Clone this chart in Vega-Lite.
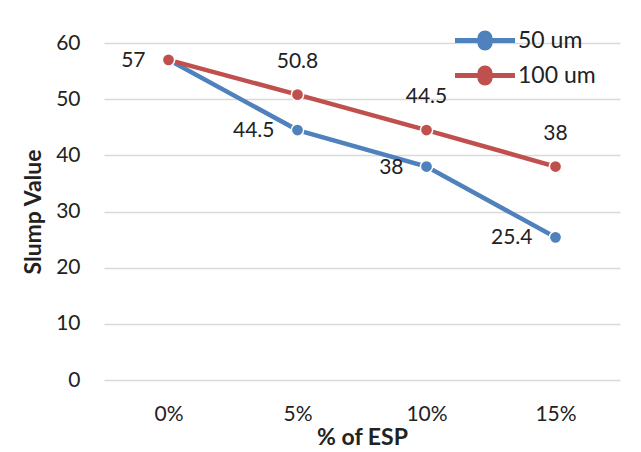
{
  "$schema": "https://vega.github.io/schema/vega-lite/v6.json",
  "width": 516,
  "height": 337,
  "autosize": {"type": "none"},
  "padding": {"left": 104, "top": 43, "right": 21, "bottom": 72},
  "background": "white",
  "config": {
    "view": {"stroke": null},
    "font": "Lato",
    "axis": {"labelFont": "Lato", "titleFont": "Lato", "labelColor": "#222", "titleColor": "#222"}
  },
  "data": {
    "values": [
      {"esp": "0%", "series": "50 um", "slump": 57},
      {"esp": "5%", "series": "50 um", "slump": 44.5},
      {"esp": "10%", "series": "50 um", "slump": 38},
      {"esp": "15%", "series": "50 um", "slump": 25.4},
      {"esp": "0%", "series": "100 um", "slump": 57},
      {"esp": "5%", "series": "100 um", "slump": 50.8},
      {"esp": "10%", "series": "100 um", "slump": 44.5},
      {"esp": "15%", "series": "100 um", "slump": 38}
    ]
  },
  "encoding": {
    "x": {
      "field": "esp", "type": "ordinal", "sort": ["0%", "5%", "10%", "15%"],
      "scale": {"type": "point", "padding": 0.5},
      "axis": {"title": "% of ESP", "labelAngle": 0, "domain": false, "ticks": false, "labelPadding": 23, "labelFontSize": 21, "titleFontSize": 23, "titleFontWeight": "bold", "titlePadding": 2}
    },
    "y": {
      "field": "slump", "type": "quantitative",
      "scale": {"domain": [0, 60]},
      "axis": {"title": "Slump Value", "values": [0, 10, 20, 30, 40, 50, 60], "domain": false, "ticks": false, "labelPadding": 24, "labelFontSize": 21, "titleFontSize": 23, "titleFontWeight": "bold", "titlePadding": 10, "gridColor": "#d9d9d9", "gridWidth": 1.5}
    }
  },
  "layer": [
    {
      "mark": {"type": "line", "strokeWidth": 4.5},
      "encoding": {
        "color": {
          "field": "series", "type": "nominal", "sort": ["50 um", "100 um"],
          "scale": {"domain": ["50 um", "100 um"], "range": ["#4f81bd", "#c0504d"]},
          "legend": {
            "title": null,
            "orient": "none",
            "legendX": 351,
            "legendY": -20,
            "symbolType": "M-1,-0.08H-0.25A0.17,0.17 0 0,1 0.25,-0.08H1V0.08H0.25A0.17,0.17 0 0,1 -0.25,0.08H-1Z",
            "symbolSize": 3600,
            "symbolStrokeWidth": 0,
            "clipHeight": 35,
            "labelFontSize": 23,
            "labelColor": "#222",
            "labelOffset": 3,
            "rowPadding": 0,
            "encode": {"symbols": {"update": {"fill": {"scale": "color", "field": "value"}, "strokeWidth": {"value": 0}}}}
          }
        }
      }
    },
    {
      "mark": {"type": "point", "filled": true, "size": 150, "stroke": "white", "strokeWidth": 1.5, "opacity": 1},
      "encoding": {
        "fill": {"field": "series", "type": "nominal", "scale": {"domain": ["50 um", "100 um"], "range": ["#4f81bd", "#c0504d"]}, "legend": null}
      }
    },
    {
      "transform": [{"filter": "datum.series == '50 um'"}],
      "mark": {"type": "text", "align": "right", "baseline": "middle", "dx": -23, "dy": 1, "fontSize": 21},
      "encoding": {"text": {"field": "slump", "type": "quantitative"}, "color": {"value": "#222"}}
    },
    {
      "transform": [{"filter": "datum.series == '100 um' && datum.esp != '0%'"}],
      "mark": {"type": "text", "align": "center", "baseline": "middle", "dy": -33, "fontSize": 21},
      "encoding": {"text": {"field": "slump", "type": "quantitative"}, "color": {"value": "#222"}}
    }
  ]
}
